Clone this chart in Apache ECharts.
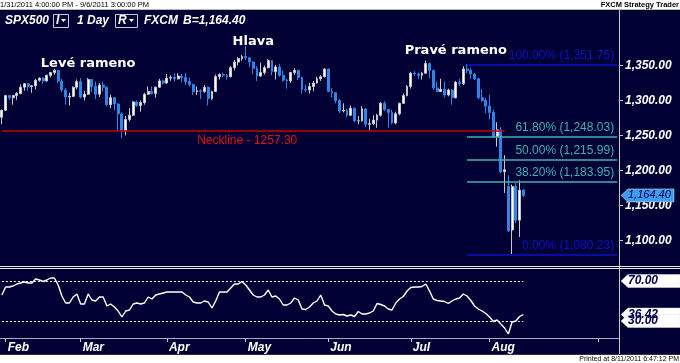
<!DOCTYPE html>
<html><head><meta charset="utf-8">
<script src="https://cdn.jsdelivr.net/npm/echarts@6/dist/echarts.min.js"></script>
<style>
html,body{margin:0;padding:0;background:#fff;}
#c{width:680px;height:363px;background:linear-gradient(to bottom,#fff 0,#fff 9px,#b8b8b8 9px,#b8b8b8 10px,#000035 10px,#000035 354px,#303030 354px,#303030 355px,#fff 355px);}
</style></head><body><div id="c"></div>
<script>
// ---------- DATA ----------
const opens = [1276,1286,1307,1304,1307,1310,1319,1324,1320,1321,
1329,1332,1328,1336,1340,1343,1328,1315,1305,1306,
1319,1327,1305,1309,1330,1320,1309,1322,1319,1294,
1304,1295,1281,1257,1273,1279,1298,1293,1297,1309,
1313,1310,1319,1328,1325,1332,1333,1331,1335,1333,
1327,1323,1313,1314,1313,1319,1303,1313,1334,1337,
1336,1334,1347,1355,1360,1363,1361,1355,1346,1335,
1340,1347,1357,1341,1348,1336,1329,1328,1340,1343,
1333,1316,1315,1320,1325,1331,1334,1345,1313,1311,
1300,1285,1286,1279,1289,1271,1271,1288,1266,1267,
1272,1279,1296,1287,1283,1268,1281,1296,1307,1320,
1339,1338,1336,1339,1353,1343,1318,1313,1316,1308,
1315,1304,1326,1324,1345,1343,1338,1331,1304,1300,
1292,1283,1248.5,1258,1198.3,1177,1115,1177,1129,1172];
const highs = [1287,1308,1308,1308,1312,1323,1325,1325,1322,1331,
1333,1333,1337,1341,1345,1344,1331,1318,1311,1320,
1330,1332,1314,1332,1331,1327,1325,1327,1320,1308,
1305,1296,1283,1278,1289,1299,1300,1300,1311,1320,
1320,1320,1331,1330,1338,1336,1339,1339,1338,1339,
1333,1324,1320,1316,1322,1320,1314,1337,1339,1340,
1338,1349,1358,1362,1365,1378,1362,1356,1349,1354,
1350,1359,1358,1351,1352,1343,1331,1341,1346,1344,
1334,1323,1325,1328,1334,1336,1346,1346,1318,1312,
1302,1296,1288,1293,1290,1278,1292,1289,1274,1279,
1281,1298,1299,1288,1287,1284,1297,1310,1322,1341,
1342,1340,1341,1357,1354,1344,1327,1331,1327,1317,
1316,1328,1331,1349,1351.75,1346,1339,1332,1316,1304,
1308,1287,1269,1262,1222,1193,1180,1182,1186,1173];
const lows = [1266,1285,1301,1294,1301,1309,1314,1314,1311,1316,
1327,1324,1327,1333,1337,1325,1312,1294,1293,1305,
1316,1303,1300,1308,1312,1302,1305,1313,1292,1289,
1286,1256,1246,1250,1270,1278,1291,1284,1294,1308,
1309,1304,1318,1323,1324,1328,1327,1330,1326,1322,
1320,1308,1308,1302,1311,1293,1301,1312,1330,1333,
1330,1333,1343,1350,1357,1358,1348,1338,1328,1334,
1337,1346,1336,1330,1334,1327,1317,1325,1337,1329,
1310,1312,1310,1313,1324,1328,1333,1312,1304,1296,
1282,1283,1276,1278,1269,1266,1270,1262,1257,1265,
1261,1277,1285,1261,1266,1266,1279,1295,1306,1317,
1335,1331,1330,1338,1332,1315,1312,1312,1305,1306,
1294,1303,1321,1322,1339,1331,1329,1302,1298,1282,
1273,1247,1234,1196,1168,1112,1080.23,1125,1105,1162];
const closes = [1286,1307,1304,1307,1310,1319,1324,1320,1321,1329,
1332,1328,1336,1340,1343,1328,1315,1305,1306,1319,
1327,1305,1309,1330,1320,1309,1322,1319,1294,1304,
1295,1281,1257,1273,1279,1298,1293,1297,1309,1313,
1310,1319,1328,1325,1332,1333,1331,1335,1333,1327,
1323,1313,1314,1313,1319,1303,1313,1334,1337,1336,
1334,1347,1355,1360,1363,1361,1355,1346,1335,1340,
1347,1357,1341,1348,1336,1329,1328,1340,1343,1333,
1316,1315,1320,1325,1331,1334,1345,1313,1311,1300,
1285,1286,1279,1289,1271,1271,1288,1266,1267,1272,
1279,1296,1287,1283,1268,1281,1296,1307,1320,1339,
1338,1336,1339,1353,1343,1318,1313,1316,1308,1315,
1304,1326,1324,1345,1343,1338,1331,1304,1300,1292,
1283,1248.5,1258,1198.3,1201,1114,1177,1129,1172,1164.4];
const rsi = [56,64,64,65,67,68,69,68,68,72,
71,69.5,71,73,73,66,55,48,48,54,
57,47,47,57,51,50,54,54,45,47,
44,40,34,40,41,47,48,47,48,54,
52,56,57,58,59,59,59,59,59,56,
54,49,48,48,50,49,43,50,59,59,
59,63,67,67,69.5,66,61,56,54,54,
56,61,54,55,52,46,46,48,53,51,
42,41.5,44,48,50,56,46,45,40,37,
36,36.5,35,36,34.5,39.5,37,37,38,40,
47.5,46.5,45,42,41,48,52,54.5,60,63.5,
64,64,64.5,67,60,52,50.5,50,49.5,47.5,
50,52,53,57,55,50.5,45,42,40,37.5,
34,29.5,31,27,23,17,29,30,34.5,36.42];
const priceTicks = [1100,1150,1200,1250,1300,1350];
const rsiLevels = [70,30];
const neckline = 1257.30;
const fibLevels = [
  {pct:'100.00%', value:1351.75, color:'#0a12c8'},
  {pct:'61.80%', value:1248.03, color:'#3fb3b0'},
  {pct:'50.00%', value:1215.99, color:'#3fb3b0'},
  {pct:'38.20%', value:1183.95, color:'#3fb3b0'},
  {pct:'0.00%', value:1080.23, color:'#0a12c8'}
];
const fibStartBar = 124;   // bar holding the swing high
const necklineEndBar = 134;
const annotations = [
  {text:'Levé rameno', bar:23, price:1353},
  {text:'Hlava', bar:67, price:1384},
  {text:'Pravé rameno', bar:121, price:1372}
];
const monthNames = ['Jan','Feb','Mar','Apr','May','Jun','Jul','Aug','Sep','Oct','Nov','Dec'];

// categories: trading days 31 Jan - 12 Aug 2011, then calendar days to 6 Sep
function fmtD(d){return d.toISOString().slice(0,10);}
const dates = (function(){
  const out=[]; let d=new Date(Date.UTC(2011,0,31)); const last=new Date(Date.UTC(2011,7,12));
  while(d<=last){const w=d.getUTCDay(); if(w!==0&&w!==6) out.push(fmtD(d)); d=new Date(d.getTime()+864e5);}
  const end=new Date(Date.UTC(2011,8,6));
  while(d<=end){out.push(fmtD(d)); d=new Date(d.getTime()+864e5);}
  return out;
})();
const nBars = closes.length;
function monthOf(s){return +s.slice(5,7)-1;}
function isMonthStart(i){return i>0 && monthOf(dates[i])!==monthOf(dates[i-1]);}
function money(v){return v.toLocaleString('en-US',{minimumFractionDigits:2,maximumFractionDigits:2});}

const FONT='Liberation Sans';
const chart = echarts.init(document.getElementById('c'), null, {renderer:'canvas'});
const candleData = opens.map((o,i)=>[o, closes[i], lows[i], highs[i]]);

const markLines = [
  [{coord:[dates[0], neckline], lineStyle:{color:'#c80000', width:1.5, type:'solid'},
    label:{show:true, position:'insideMiddleBottom', formatter:'Neckline - 1257.30', color:'#e01010', fontSize:12, fontFamily:FONT, distance:4, padding:[0,12,0,0]}},
   {coord:[dates[necklineEndBar], neckline]}]
].concat(fibLevels.map(f=>[
  {coord:[dates[fibStartBar], f.value], lineStyle:{color:f.color, width:1.5, type:'solid'},
   label:{show:true, position:'insideEndTop', formatter:f.pct+' ('+money(f.value)+')', color:f.color, fontSize:12, fontFamily:FONT, distance:3}},
  {coord:[dates[dates.length-1], f.value]}
]));

chart.setOption({
  animation:false,
  backgroundColor:'transparent',
  grid:[{left:0, top:10, width:619, height:253},{left:0, top:270, width:619, height:68}],
  xAxis:[
    {type:'category', gridIndex:0, data:dates, boundaryGap:true, show:false},
    {type:'category', gridIndex:1, data:dates, boundaryGap:true,
     axisLine:{show:true, lineStyle:{color:'#a8a8c8', width:1}},
     axisTick:{show:true, alignWithLabel:true, interval:(i)=>isMonthStart(i), length:4, lineStyle:{color:'#c8c8d8'}},
     axisLabel:{show:true, interval:(i)=>isMonthStart(i)&&i<nBars, formatter:(v)=>monthNames[monthOf(v)],
       color:'#ffffff', fontSize:12, fontWeight:'bold', fontStyle:'italic', fontFamily:FONT, align:'left', margin:4, padding:[0,0,0,2]},
     splitLine:{show:false}}
  ],
  yAxis:[
    {type:'value', gridIndex:0, position:'right', min:1067.8, max:1429.35, scale:true,
     splitLine:{show:false}, axisLine:{show:false},
     axisTick:{show:true, length:4, customValues:priceTicks, lineStyle:{color:'#c8c8c8'}},
     axisLabel:{show:true, customValues:priceTicks, formatter:(v)=>money(v), color:'#ffffff', fontSize:12,
       fontWeight:'bold', fontStyle:'italic', fontFamily:FONT, margin:6}},
    {type:'value', gridIndex:1, position:'right', min:13, max:81,
     splitLine:{show:false}, axisLine:{show:false}, axisTick:{show:false}, axisLabel:{show:false}}
  ],
  series:[
    {type:'candlestick', xAxisIndex:0, yAxisIndex:0, data:candleData, barWidth:2.4,
     itemStyle:{color:'#ffffff', color0:'#2f86e6', borderColor:'#c8c8c8', borderColor0:'#2f86e6', borderWidth:1},
     markLine:{symbol:['none','none'], silent:true, animation:false, data:markLines},
     markPoint:{silent:true, animation:false, data:annotations.map(a=>({coord:[dates[a.bar], a.price], symbol:'circle', symbolSize:1,
       itemStyle:{color:'transparent'},
       label:{show:true, position:'inside', formatter:a.text, color:'#ffffff', fontSize:13, fontWeight:'bold', fontFamily:'DejaVu Sans'}}))}
    },
    {type:'line', xAxisIndex:1, yAxisIndex:1, data:rsi, symbol:'none', lineStyle:{color:'#ffffff', width:1.4},
     markLine:{symbol:['none','none'], silent:true, animation:false, label:{show:false},
       data:rsiLevels.map(l=>[{coord:[dates[0], l], lineStyle:{color:'#ffffff', width:1, type:[2,2]}},{coord:[dates[nBars-1], l]}])}}
  ]
});

// tags on the right axis, placed through the library's scales
const yLast = chart.convertToPixel({yAxisIndex:0}, closes[nBars-1]);
const yR = rsiLevels.map(l=>chart.convertToPixel({yAxisIndex:1}, l));
const yRl = chart.convertToPixel({yAxisIndex:1}, rsi[nBars-1]);
function tag(y, x1, fill, text, font, color){
  return [
    {type:'polygon', shape:{points:[[621,y],[628,y-6.5],[x1,y-6.5],[x1,y+6.5],[628,y+6.5]]}, style:{fill:fill, stroke:'#e0e0e0', lineWidth:0.5}, z:50},
    {type:'text', x:628, y:y, style:{text:text, font:font, fill:color, verticalAlign:'middle', align:'left'}, z:51}
  ];
}
const T = (x,y,text,font,fill,align)=>({type:'text', x:x, y:y, style:{text:text, font:font, fill:fill||'#fff', verticalAlign:'middle', align:align||'left'}, z:40});
const hdr = 'italic bold 12px '+FONT;
const g = [
  T(0,4.5,'1/31/2011 4:00:00 PM - 9/6/2011 3:00:00 PM','7.5px '+FONT,'#000'),
  T(679,4.5,'FXCM Strategy Trader','bold 7.5px '+FONT,'#000','right'),
  T(679,359,'Printed at 8/11/2011 6:47:12 PM','7px '+FONT,'#000','right'),
  T(5,21,'SPX500',hdr),
  {type:'rect', shape:{x:53.5,y:14.5,width:15,height:13}, style:{fill:'none', stroke:'#c8c8d8', lineWidth:1}, z:40},
  T(56,21,'I',hdr),
  {type:'polygon', shape:{points:[[61,19],[66,19],[63.5,22]]}, style:{fill:'#fff'}, z:40},
  T(77,21,'1 Day',hdr),
  {type:'rect', shape:{x:115.5,y:14.5,width:22,height:13}, style:{fill:'none', stroke:'#c8c8d8', lineWidth:1}, z:40},
  T(118,21,'R',hdr),
  {type:'polygon', shape:{points:[[129,19],[134,19],[131.5,22]]}, style:{fill:'#fff'}, z:40},
  T(144,21,'FXCM',hdr),
  T(183,21,'B=1,164.40',hdr),
  {type:'line', shape:{x1:619.5,y1:10,x2:619.5,y2:354}, style:{stroke:'#c8c8c8', lineWidth:1}, z:30},
  {type:'line', shape:{x1:0,y1:266.5,x2:680,y2:266.5}, style:{stroke:'#e8e8e8', lineWidth:1}, z:30},
  {type:'line', shape:{x1:0,y1:268.5,x2:680,y2:268.5}, style:{stroke:'#e8e8e8', lineWidth:1}, z:30}
]
.concat(tag(yLast, 674, '#3d9cf2', money(closes[nBars-1]), 'italic 11px '+FONT, '#000040'))
.concat(tag(yRl, 680, '#ffffff', rsi[nBars-1].toFixed(2), 'italic bold 12px '+FONT, '#000050'))
.concat(tag(yR[1], 680, '#ffffff', rsiLevels[1].toFixed(2), 'italic bold 12px '+FONT, '#000050'))
.concat(tag(yR[0], 680, '#ffffff', rsiLevels[0].toFixed(2), 'italic bold 12px '+FONT, '#000050'));
chart.setOption({graphic:g});
</script></body></html>
